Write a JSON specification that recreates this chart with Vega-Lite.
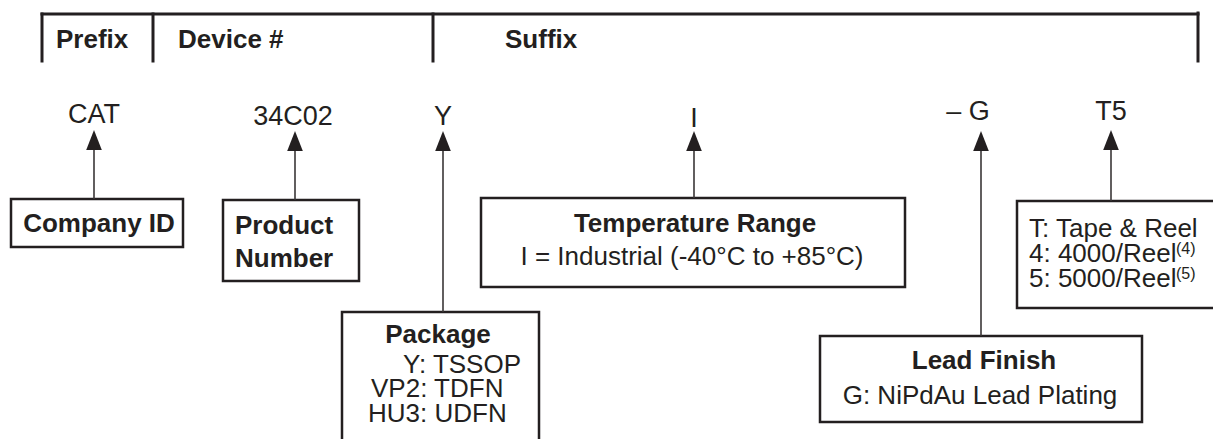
{
  "$schema": "https://vega.github.io/schema/vega-lite/v6.json",
  "width": 1213,
  "height": 439,
  "padding": 0,
  "autosize": {"type": "none"},
  "background": "white",
  "config": {"view": {"stroke": null}, "font": "Liberation Sans"},
  "datasets": {
    "frame": [
      {"x": 42, "y": 14, "x2": 1198, "y2": 14},
      {"x": 42, "y": 14, "x2": 42, "y2": 61},
      {"x": 153, "y": 14, "x2": 153, "y2": 61},
      {"x": 433, "y": 14, "x2": 433, "y2": 61},
      {"x": 1198, "y": 13, "x2": 1198, "y2": 61}
    ],
    "stems": [
      {"x": 94, "y": 148, "x2": 94, "y2": 199},
      {"x": 295, "y": 148, "x2": 295, "y2": 200},
      {"x": 443, "y": 148, "x2": 443, "y2": 312},
      {"x": 694, "y": 148, "x2": 694, "y2": 198},
      {"x": 981, "y": 148, "x2": 981, "y2": 336},
      {"x": 1111, "y": 148, "x2": 1111, "y2": 201}
    ],
    "heads": [
      {"x": 94, "y": 140},
      {"x": 295, "y": 141},
      {"x": 443, "y": 141},
      {"x": 694, "y": 141},
      {"x": 981, "y": 141},
      {"x": 1111, "y": 140}
    ],
    "boxes": [
      {"name": "Company ID", "x": 11, "y": 199, "x2": 183, "y2": 247},
      {"name": "Product Number", "x": 223, "y": 200, "x2": 359, "y2": 281},
      {"name": "Temperature Range", "x": 481, "y": 198, "x2": 905, "y2": 287},
      {"name": "Package", "x": 342, "y": 312, "x2": 539, "y2": 450},
      {"name": "Lead Finish", "x": 820, "y": 336, "x2": 1142, "y2": 422},
      {"name": "Tape & Reel", "x": 1017, "y": 201, "x2": 1220, "y2": 308}
    ],
    "texts": [
      {"kind": "header", "text": "Prefix", "x": 56, "y": 48},
      {"kind": "header", "text": "Device #", "x": 178, "y": 48},
      {"kind": "header", "text": "Suffix", "x": 505, "y": 48},
      {"kind": "code", "text": "CAT", "x": 94, "y": 123},
      {"kind": "code", "text": "34C02", "x": 293, "y": 125},
      {"kind": "code", "text": "Y", "x": 443, "y": 125},
      {"kind": "code", "text": "I", "x": 694, "y": 127},
      {"kind": "code", "text": "– G", "x": 968, "y": 120},
      {"kind": "code", "text": "T5", "x": 1111, "y": 120},
      {"kind": "title", "text": "Company ID", "x": 99, "y": 232},
      {"kind": "title_left", "text": "Product", "x": 235, "y": 234},
      {"kind": "title_left", "text": "Number", "x": 235, "y": 267},
      {"kind": "title", "text": "Temperature Range", "x": 695, "y": 232},
      {"kind": "detail", "text": "I = Industrial (-40°C to +85°C)", "x": 692, "y": 265},
      {"kind": "title", "text": "Package", "x": 438, "y": 343},
      {"kind": "detail_left", "text": "Y: TSSOP", "x": 403, "y": 373},
      {"kind": "detail_left", "text": "VP2: TDFN", "x": 371, "y": 397},
      {"kind": "detail_left", "text": "HU3: UDFN", "x": 368, "y": 422},
      {"kind": "title", "text": "Lead Finish", "x": 984, "y": 369},
      {"kind": "detail", "text": "G: NiPdAu Lead Plating", "x": 980, "y": 404},
      {"kind": "detail_left", "text": "T: Tape & Reel", "x": 1029, "y": 237},
      {"kind": "detail_left", "text": "4: 4000/Reel", "x": 1029, "y": 262},
      {"kind": "detail_left", "text": "5: 5000/Reel", "x": 1029, "y": 287},
      {"kind": "note", "text": "(4)", "x": 1176, "y": 254},
      {"kind": "note", "text": "(5)", "x": 1176, "y": 279}
    ]
  },
  "encoding": {
    "x": {"field": "x", "type": "quantitative", "scale": {"domain": [0, 1213], "nice": false, "zero": false}, "axis": null},
    "y": {"field": "y", "type": "quantitative", "scale": {"domain": [0, 439], "nice": false, "zero": false, "reverse": true}, "axis": null}
  },
  "layer": [
    {
      "data": {"name": "boxes"},
      "mark": {"type": "rect", "fill": "white", "stroke": "#231f20", "strokeWidth": 2.5},
      "encoding": {"x2": {"field": "x2"}, "y2": {"field": "y2"}}
    },
    {
      "data": {"name": "frame"},
      "mark": {"type": "rule", "color": "#231f20", "strokeWidth": 3, "strokeCap": "square"},
      "encoding": {"x2": {"field": "x2"}, "y2": {"field": "y2"}}
    },
    {
      "data": {"name": "stems"},
      "mark": {"type": "rule", "color": "#3a3637", "strokeWidth": 1.6},
      "encoding": {"x2": {"field": "x2"}, "y2": {"field": "y2"}}
    },
    {
      "data": {"name": "heads"},
      "mark": {"type": "point", "shape": "M0,-1L0.78,1L-0.78,1Z", "size": 400, "filled": true, "color": "#231f20", "opacity": 1, "strokeWidth": 0}
    },
    {
      "data": {"name": "texts"},
      "transform": [{"filter": "datum.kind === 'header'"}],
      "mark": {"type": "text", "align": "left", "baseline": "alphabetic", "fontSize": 26, "fontWeight": "bold", "color": "#231f20"},
      "encoding": {"text": {"field": "text"}}
    },
    {
      "data": {"name": "texts"},
      "transform": [{"filter": "datum.kind === 'code'"}],
      "mark": {"type": "text", "align": "center", "baseline": "alphabetic", "fontSize": 27, "color": "#231f20"},
      "encoding": {"text": {"field": "text"}}
    },
    {
      "data": {"name": "texts"},
      "transform": [{"filter": "datum.kind === 'title'"}],
      "mark": {"type": "text", "align": "center", "baseline": "alphabetic", "fontSize": 26, "fontWeight": "bold", "color": "#231f20"},
      "encoding": {"text": {"field": "text"}}
    },
    {
      "data": {"name": "texts"},
      "transform": [{"filter": "datum.kind === 'title_left'"}],
      "mark": {"type": "text", "align": "left", "baseline": "alphabetic", "fontSize": 26, "fontWeight": "bold", "color": "#231f20"},
      "encoding": {"text": {"field": "text"}}
    },
    {
      "data": {"name": "texts"},
      "transform": [{"filter": "datum.kind === 'detail'"}],
      "mark": {"type": "text", "align": "center", "baseline": "alphabetic", "fontSize": 26, "color": "#231f20"},
      "encoding": {"text": {"field": "text"}}
    },
    {
      "data": {"name": "texts"},
      "transform": [{"filter": "datum.kind === 'detail_left'"}],
      "mark": {"type": "text", "align": "left", "baseline": "alphabetic", "fontSize": 26, "color": "#231f20"},
      "encoding": {"text": {"field": "text"}}
    },
    {
      "data": {"name": "texts"},
      "transform": [{"filter": "datum.kind === 'note'"}],
      "mark": {"type": "text", "align": "left", "baseline": "alphabetic", "fontSize": 16, "color": "#231f20"},
      "encoding": {"text": {"field": "text"}}
    }
  ]
}
